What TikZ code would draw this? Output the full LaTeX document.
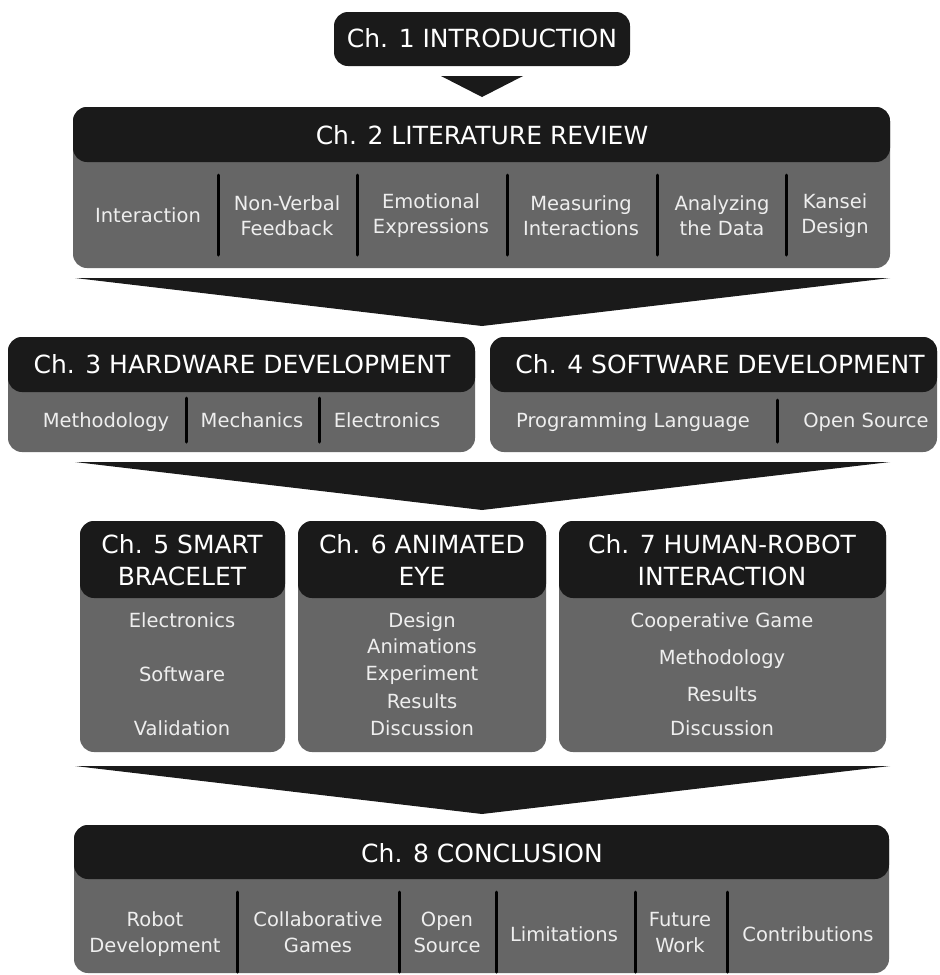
\documentclass[tikz,border=0pt]{standalone}
\usepackage{fontspec}
\setmainfont{DejaVu Sans}
\definecolor{hdrblack}{HTML}{1A1A1A}
\definecolor{bodygray}{HTML}{666666}
\definecolor{itemwhite}{HTML}{EEEEEE}
\tikzset{
  hdr/.style={fill=hdrblack, rounded corners=14pt},
  body/.style={fill=bodygray, rounded corners=14pt},
  flow/.style={fill=hdrblack},
  ttl/.style={text=white, anchor=base, inner sep=0pt, font=\fontsize{25}{30}\selectfont},
  itm/.style={text=itemwhite, anchor=base, inner sep=0pt, font=\fontsize{19.5}{24}\selectfont},
  sep/.style={draw=black, line width=3pt, line cap=round}
}
\begin{document}
\begin{tikzpicture}[x=1pt, y=-1pt]
\useasboundingbox[fill=white] (0,0) rectangle (940,975);

% ---------- Chapter 1 ----------
\path[hdr] (334,12) rectangle (630,66);
\node[ttl] (c1) at (482,47) {Ch. 1 INTRODUCTION};
\coordinate (f1a) at (441,76); \coordinate (f1b) at (523,76); \coordinate (f1c) at (482,97);
\path[flow] (f1a) -- (f1b) -- (f1c) -- cycle;

% ---------- Chapter 2 ----------
\path[body] (73,107) rectangle (890,268);
\path[hdr] (73,107) rectangle (890,162);
\node[ttl] (c2) at (482,144) {Ch. 2 LITERATURE REVIEW};
\foreach \x in {218,357,507,657,786} \draw[sep] (\x,175) -- (\x,255);
\node[itm] (c2a)  at (148,222) {Interaction};
\node[itm] (c2b1) at (287,210) {Non-Verbal};
\node[itm] (c2b2) at (287,235) {Feedback};
\node[itm] (c2c1) at (431,208) {Emotional};
\node[itm] (c2c2) at (431,233) {Expressions};
\node[itm] (c2d1) at (581,210) {Measuring};
\node[itm] (c2d2) at (581,235) {Interactions};
\node[itm] (c2e1) at (722,210) {Analyzing};
\node[itm] (c2e2) at (722,235) {the Data};
\node[itm] (c2f1) at (835,208) {Kansei};
\node[itm] (c2f2) at (835,233) {Design};
\coordinate (f2a) at (75,278); \coordinate (f2b) at (890,278); \coordinate (f2c) at (482,326);
\path[flow] (f2a) -- (f2b) -- (f2c) -- cycle;

% ---------- Chapter 3 ----------
\path[body] (8,337) rectangle (475,452);
\path[hdr] (8,337) rectangle (475,392);
\node[ttl] (c3) at (242,373) {Ch. 3 HARDWARE DEVELOPMENT};
\foreach \x in {186,319} \draw[sep] (\x,398) -- (\x,442);
\node[itm] (c3a) at (106,427) {Methodology};
\node[itm] (c3b) at (252,427) {Mechanics};
\node[itm] (c3c) at (387,427) {Electronics};

% ---------- Chapter 4 ----------
\path[body] (490,337) rectangle (937,452);
\path[hdr] (490,337) rectangle (937,392);
\node[ttl] (c4) at (720,373) {Ch. 4 SOFTWARE DEVELOPMENT};
\draw[sep] (777,400) -- (777,442);
\node[itm] (c4a) at (633,427) {Programming Language};
\node[itm] (c4b) at (866,427) {Open Source};
\coordinate (f3a) at (75,462); \coordinate (f3b) at (890,462); \coordinate (f3c) at (482,510);
\path[flow] (f3a) -- (f3b) -- (f3c) -- cycle;

% ---------- Chapter 5 ----------
\path[body] (80,521) rectangle (285,752);
\path[hdr] (80,521) rectangle (285,598);
\node[ttl] (c5t1) at (182,553) {Ch. 5 SMART};
\node[ttl] (c5t2) at (182,585) {BRACELET};
\node[itm] (c5a) at (182,627) {Electronics};
\node[itm] (c5b) at (182,681) {Software};
\node[itm] (c5c) at (182,735) {Validation};

% ---------- Chapter 6 ----------
\path[body] (298,521) rectangle (546,752);
\path[hdr] (298,521) rectangle (546,598);
\node[ttl] (c6t1) at (422,553) {Ch. 6 ANIMATED};
\node[ttl] (c6t2) at (422,585) {EYE};
\node[itm] (c6a) at (422,627) {Design};
\node[itm] (c6b) at (422,653) {Animations};
\node[itm] (c6c) at (422,680) {Experiment};
\node[itm] (c6d) at (422,708) {Results};
\node[itm] (c6e) at (422,735) {Discussion};

% ---------- Chapter 7 ----------
\path[body] (559,521) rectangle (886,752);
\path[hdr] (559,521) rectangle (886,598);
\node[ttl] (c7t1) at (722,553) {Ch. 7 HUMAN-ROBOT};
\node[ttl] (c7t2) at (722,585) {INTERACTION};
\node[itm] (c7a) at (722,627) {Cooperative Game};
\node[itm] (c7b) at (722,664) {Methodology};
\node[itm] (c7c) at (722,701) {Results};
\node[itm] (c7d) at (722,735) {Discussion};
\coordinate (f4a) at (75,766); \coordinate (f4b) at (890,766); \coordinate (f4c) at (482,814);
\path[flow] (f4a) -- (f4b) -- (f4c) -- cycle;

% ---------- Chapter 8 ----------
\path[body] (74,825) rectangle (889,973);
\path[hdr] (74,825) rectangle (889,879);
\node[ttl] (c8) at (482,862) {Ch. 8 CONCLUSION};
\foreach \x in {237,399,496,635,727} \draw[sep] (\x,892) -- (\x,972);
\node[itm] (c8a1) at (155,926) {Robot};
\node[itm] (c8a2) at (155,952) {Development};
\node[itm] (c8b1) at (318,926) {Collaborative};
\node[itm] (c8b2) at (318,952) {Games};
\node[itm] (c8c1) at (447,926) {Open};
\node[itm] (c8c2) at (447,952) {Source};
\node[itm] (c8d)  at (564,941) {Limitations};
\node[itm] (c8e1) at (680,926) {Future};
\node[itm] (c8e2) at (680,952) {Work};
\node[itm] (c8f)  at (808,941) {Contributions};
\end{tikzpicture}
\end{document}
